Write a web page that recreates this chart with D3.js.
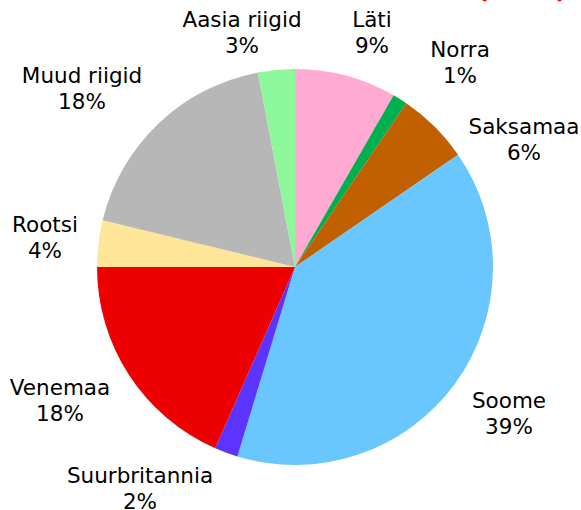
<!DOCTYPE html>
<html>
<head>
<meta charset="utf-8">
<script src="https://cdn.jsdelivr.net/npm/d3@7"></script>
<style>
  body { margin: 0; background: #fff; }
  svg { display: block; }
</style>
</head>
<body>
<div id="chart"></div>
<script>
// slices clockwise from 12 o'clock
var countries = ["Läti", "Norra", "Saksamaa", "Soome", "Suurbritannia", "Venemaa", "Rootsi", "Muud riigid", "Aasia riigid"];
var shares = [8.3, 1.2, 5.9, 39.3, 1.9, 18.4, 3.8, 18.2, 3.0];
var shareLabels = ["9%", "1%", "6%", "39%", "2%", "18%", "4%", "18%", "3%"];
var colors = ["#FFA9D3", "#00B050", "#C06000", "#69C6FF", "#5B35FF", "#EE0000", "#FFE597", "#B7B7B7", "#8DF79B"];

// label anchor (centre x, first baseline y)
var labelPos = [[372, 27], [460, 57], [524, 134], [509, 408], [140, 483], [60, 395], [45, 232], [82, 83], [242, 27]];

var width = 581, height = 510;
var cx = 295, cy = 267, radius = 198;

var svg = d3.select("#chart").append("svg")
    .attr("width", width)
    .attr("height", height);

// clipped red title at the very top
svg.append("text")
    .attr("x", 522)
    .attr("y", -2)
    .attr("text-anchor", "middle")
    .attr("font-family", "DejaVu Sans, Verdana, sans-serif")
    .attr("font-weight", "bold")
    .attr("font-size", 24)
    .attr("fill", "#FF0000")
    .text("(2010)");

var pie = d3.pie().sort(null).value(function(d) { return d; });
var arc = d3.arc().innerRadius(0).outerRadius(radius);

var g = svg.append("g").attr("transform", "translate(" + cx + "," + cy + ")");

g.selectAll("path")
    .data(pie(shares))
    .enter()
    .append("path")
    .attr("d", arc)
    .attr("fill", function(d, i) { return colors[i]; });

var labels = svg.selectAll("text.lbl")
    .data(countries)
    .enter()
    .append("text")
    .attr("class", "lbl")
    .attr("text-anchor", "middle")
    .attr("font-family", "DejaVu Sans, Verdana, sans-serif")
    .attr("font-size", 21.5)
    .attr("fill", "#000");

labels.append("tspan")
    .attr("x", function(d, i) { return labelPos[i][0]; })
    .attr("y", function(d, i) { return labelPos[i][1]; })
    .text(function(d) { return d; });

labels.append("tspan")
    .attr("x", function(d, i) { return labelPos[i][0]; })
    .attr("y", function(d, i) { return labelPos[i][1] + 25.5; })
    .text(function(d, i) { return shareLabels[i]; });
</script>
</body>
</html>
